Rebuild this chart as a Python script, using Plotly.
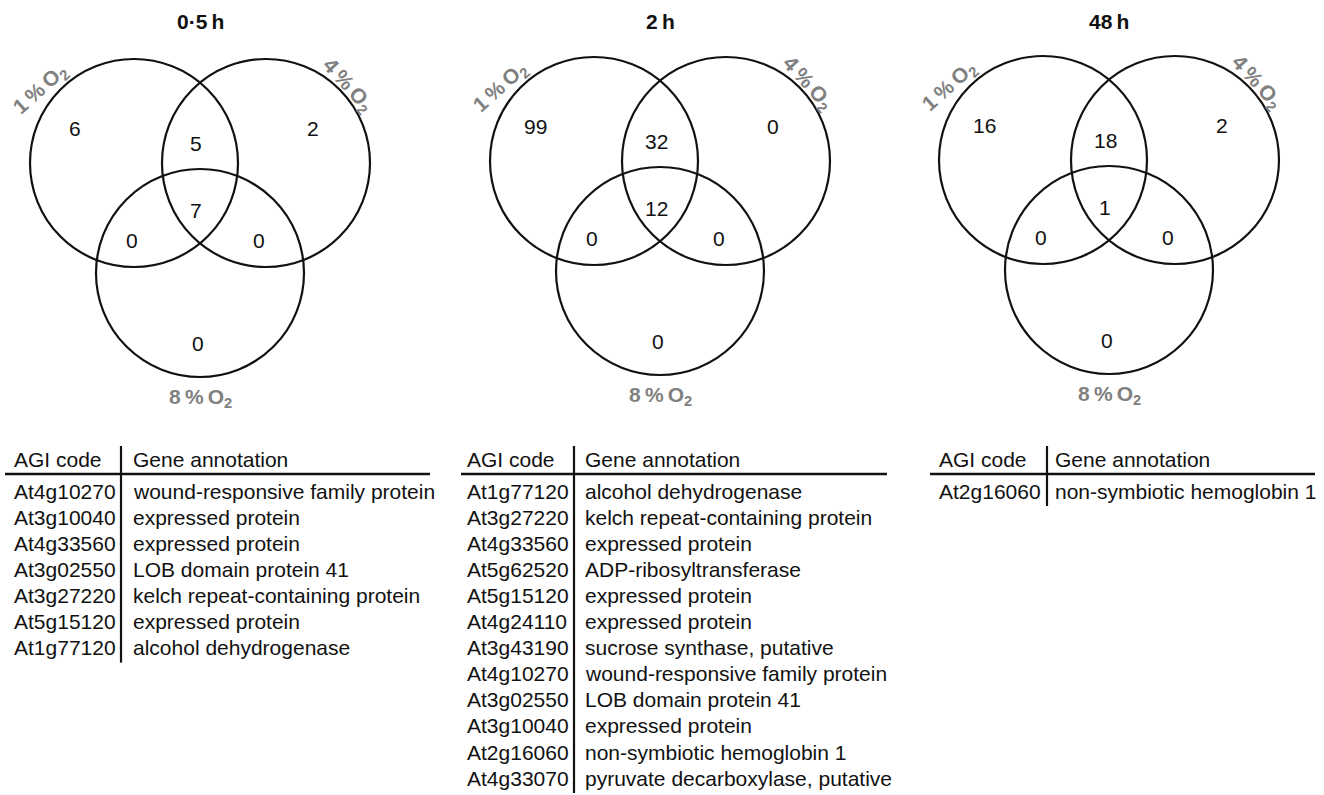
import plotly.graph_objects as go

# Time points and the three oxygen treatments
titles = ["0\u00b75\u2009h", "2\u2009h", "48\u2009h"]
set_labels = ["1\u2009%\u2009O<sub>2</sub>", "4\u2009%\u2009O<sub>2</sub>", "8\u2009%\u2009O<sub>2</sub>"]

# Region counts: [1% only, 1%&4%, 4% only, 1%&8%, all three, 4%&8%, 8% only]
counts_05h = [6, 5, 2, 0, 7, 0, 0]
counts_2h = [99, 32, 0, 0, 12, 0, 0]
counts_48h = [16, 18, 2, 0, 1, 0, 0]

# Genes shared by all treatments at each time point
codes_05h = ["At4g10270", "At3g10040", "At4g33560", "At3g02550", "At3g27220", "At5g15120", "At1g77120"]
annot_05h = ["wound-responsive family protein", "expressed protein", "expressed protein",
             "LOB domain protein 41", "kelch repeat-containing protein", "expressed protein",
             "alcohol dehydrogenase"]
codes_2h = ["At1g77120", "At3g27220", "At4g33560", "At5g62520", "At5g15120", "At4g24110",
            "At3g43190", "At4g10270", "At3g02550", "At3g10040", "At2g16060", "At4g33070"]
annot_2h = ["alcohol dehydrogenase", "kelch repeat-containing protein", "expressed protein",
            "ADP-ribosyltransferase", "expressed protein", "expressed protein",
            "sucrose synthase, putative", "wound-responsive family protein", "LOB domain protein 41",
            "expressed protein", "non-symbiotic hemoglobin 1", "pyruvate decarboxylase, putative"]
codes_48h = ["At2g16060"]
annot_48h = ["non-symbiotic hemoglobin 1"]
table_header = ["AGI code", "Gene annotation"]

W, H = 1324, 795
FONT = "Liberation Sans, Arial, Helvetica, sans-serif"
FS = 21
GREY = "#808080"

panels = [
    dict(title=titles[0], counts=counts_05h, codes=codes_05h, annot=annot_05h,
         cx=200, cy=273, tx=(5, 12, 121, 131, 430)),
    dict(title=titles[1], counts=counts_2h, codes=codes_2h, annot=annot_2h,
         cx=660, cy=271, tx=(461, 465, 574, 583, 887)),
    dict(title=titles[2], counts=counts_48h, codes=codes_48h, annot=annot_48h,
         cx=1109, cy=270, tx=(930, 937, 1047, 1053, 1315)),
]

# Venn layout relative to the centre of the lower (8 %) circle
R = 104
circle_offsets = [(-66, -110), (66, -110), (0, 0)]
region_offsets = [(-125, -145), (-4, -130), (113, -145), (-68, -33), (-4, -63), (59, -33), (-2, 70)]
label_offsets = [(-160, -183, -42), (147, -188, 48), (0, 125, 0)]

ROW0, ROW_STEP, HEAD_Y, RULE_Y, DIV_TOP = 491, 26.1, 459, 474, 446

fig = go.Figure()
shapes, annotations = [], []

for p in panels:
    cx, cy = p["cx"], p["cy"]
    annotations.append(dict(x=cx, y=21, text="<b>%s</b>" % p["title"], showarrow=False,
                            font=dict(family=FONT, size=FS, color="#111111"),
                            xanchor="center", yanchor="middle"))
    for dx, dy in circle_offsets:
        shapes.append(dict(type="circle", xref="x", yref="y",
                           x0=cx + dx - R, x1=cx + dx + R, y0=cy + dy - R, y1=cy + dy + R,
                           line=dict(color="#111111", width=2.2), fillcolor="rgba(0,0,0,0)"))
    for (dx, dy), v in zip(region_offsets, p["counts"]):
        annotations.append(dict(x=cx + dx, y=cy + dy, text=str(v), showarrow=False,
                                font=dict(family=FONT, size=FS, color="#111111"),
                                xanchor="center", yanchor="middle"))
    for (dx, dy, ang), lab in zip(label_offsets, set_labels):
        annotations.append(dict(x=cx + dx, y=cy + dy, text="<b>%s</b>" % lab, showarrow=False,
                                textangle=ang, font=dict(family=FONT, size=FS, color=GREY),
                                xanchor="center", yanchor="middle"))

    # Table of shared genes
    x_line0, x_code, x_div, x_ann, x_line1 = p["tx"]
    annotations.append(dict(x=x_code, y=HEAD_Y, text=table_header[0], showarrow=False,
                            font=dict(family=FONT, size=FS, color="#111111"),
                            xanchor="left", yanchor="middle"))
    annotations.append(dict(x=x_ann, y=HEAD_Y, text=table_header[1], showarrow=False,
                            font=dict(family=FONT, size=FS, color="#111111"),
                            xanchor="left", yanchor="middle"))
    for i, (code, ann) in enumerate(zip(p["codes"], p["annot"])):
        y = ROW0 + i * ROW_STEP
        annotations.append(dict(x=x_code, y=y, text=code, showarrow=False,
                                font=dict(family=FONT, size=FS, color="#111111"),
                                xanchor="left", yanchor="middle"))
        annotations.append(dict(x=x_ann, y=y, text=ann, showarrow=False,
                                font=dict(family=FONT, size=FS, color="#111111"),
                                xanchor="left", yanchor="middle"))
    last_y = ROW0 + (len(p["codes"]) - 1) * ROW_STEP
    shapes.append(dict(type="line", xref="x", yref="y", x0=x_line0, x1=x_line1,
                       y0=RULE_Y, y1=RULE_Y, line=dict(color="#111111", width=2.5)))
    shapes.append(dict(type="line", xref="x", yref="y", x0=x_div, x1=x_div,
                       y0=DIV_TOP, y1=last_y + 15, line=dict(color="#111111", width=2.2)))

fig.update_layout(
    width=W, height=H, margin=dict(l=0, r=0, t=0, b=0),
    paper_bgcolor="white", plot_bgcolor="white",
    xaxis=dict(range=[0, W], visible=False, fixedrange=True),
    yaxis=dict(range=[H, 0], visible=False, fixedrange=True),
    shapes=shapes, annotations=annotations, showlegend=False,
)

fig.write_html("out.html")
